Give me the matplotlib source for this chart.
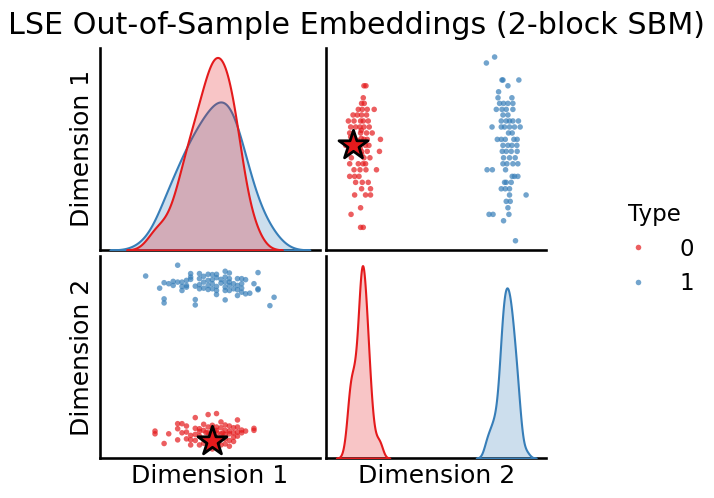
import matplotlib
matplotlib.use("Agg")
import matplotlib.pyplot as plt
from matplotlib.lines import Line2D
import pandas as pd
import seaborn as sns

# valores (Type 0 = rojo, Type 1 = azul)
red_dim1 = [0.823, 0.823, 0.763, 0.735, 0.735, 0.705, 0.705, 0.705, 0.705, 0.677,
            0.677, 0.677, 0.677, 0.647, 0.647, 0.647, 0.647, 0.647, 0.617, 0.617,
            0.617, 0.617, 0.617, 0.587, 0.587, 0.587, 0.587, 0.555, 0.555, 0.555,
            0.525, 0.525, 0.525, 0.495, 0.495, 0.495, 0.495, 0.463, 0.463, 0.463,
            0.433, 0.433, 0.433, 0.433, 0.403, 0.403, 0.403, 0.403, 0.370, 0.370,
            0.370, 0.340, 0.340, 0.340, 0.308, 0.308, 0.277, 0.277, 0.277, 0.213,
            0.180, 0.115, 0.115, 0.567, 0.550, 0.500, 0.525, 0.560, 0.540, 0.510,
            0.480, 0.600]
red_dim2 = [-0.733, -0.713, -0.740, -0.757, -0.730, -0.790, -0.750, -0.700, -0.630, -0.843,
            -0.800, -0.757, -0.707, -0.890, -0.833, -0.767, -0.740, -0.690, -0.867, -0.817,
            -0.773, -0.733, -0.680, -0.877, -0.767, -0.707, -0.650, -0.733, -0.700, -0.567,
            -0.917, -0.717, -0.683, -0.877, -0.757, -0.700, -0.577, -0.860, -0.733, -0.673,
            -0.877, -0.790, -0.743, -0.717, -0.833, -0.773, -0.713, -0.607, -0.877, -0.827,
            -0.783, -0.817, -0.750, -0.690, -0.757, -0.667, -0.827, -0.717, -0.667, -0.767,
            -0.863, -0.767, -0.740, -0.867, -0.800, -0.817, -0.780, -0.760, -0.745, -0.770,
            -0.755, -0.760]

blue_dim1 = [0.967, 0.937, 0.852, 0.852, 0.852, 0.823, 0.793, 0.763, 0.763, 0.735,
             0.735, 0.735, 0.735, 0.705, 0.705, 0.705, 0.705, 0.677, 0.677, 0.647,
             0.647, 0.647, 0.647, 0.647, 0.617, 0.617, 0.617, 0.617, 0.617, 0.617,
             0.587, 0.587, 0.555, 0.555, 0.555, 0.555, 0.555, 0.525, 0.525, 0.525,
             0.525, 0.495, 0.495, 0.495, 0.495, 0.463, 0.463, 0.463, 0.433, 0.433,
             0.433, 0.433, 0.403, 0.403, 0.403, 0.370, 0.370, 0.370, 0.340, 0.340,
             0.340, 0.308, 0.308, 0.308, 0.277, 0.277, 0.245, 0.245, 0.213, 0.180,
             0.180, 0.180, 0.148, 0.048]
blue_dim2 = [0.583, 0.500, 0.657, 0.667, 0.827, 0.717, 0.623, 0.617, 0.757, 0.633,
             0.673, 0.717, 0.767, 0.600, 0.657, 0.700, 0.767, 0.667, 0.717, 0.650,
             0.700, 0.733, 0.767, 0.823, 0.557, 0.650, 0.683, 0.733, 0.783, 0.840,
             0.723, 0.760, 0.610, 0.650, 0.690, 0.777, 0.810, 0.667, 0.717, 0.757,
             0.807, 0.660, 0.700, 0.750, 0.810, 0.673, 0.733, 0.790, 0.667, 0.707,
             0.767, 0.817, 0.507, 0.560, 0.693, 0.760, 0.783, 0.817, 0.683, 0.700,
             0.750, 0.650, 0.690, 0.733, 0.733, 0.900, 0.700, 0.740, 0.717, 0.527,
             0.567, 0.727, 0.673, 0.793]

# punto fuera de muestra
star_dim1 = 0.525
star_dim2 = -0.84

sns.set_context("talk")

df = pd.DataFrame({
    "Dimension 1": red_dim1 + blue_dim1,
    "Dimension 2": red_dim2 + blue_dim2,
    "Type": [0] * len(red_dim1) + [1] * len(blue_dim1),
})

g = sns.pairplot(df, hue="Type", palette="Set1",
                 plot_kws=dict(s=16, alpha=0.7, linewidth=0))
fig = g.fig
fig.set_size_inches(7.14, 4.98)
g._legend.remove()
fig.subplots_adjust(left=0.140, right=0.765, bottom=0.080, top=0.904,
                    wspace=0.03, hspace=0.03)

colores = sns.color_palette("Set1", 2)

# estrella en los dos paneles de dispersion
g.axes[0, 1].scatter([star_dim2], [star_dim1], marker="*", s=480, c=[colores[0]],
                     edgecolors="black", linewidths=2, zorder=5)
g.axes[1, 0].scatter([star_dim1], [star_dim2], marker="*", s=480, c=[colores[0]],
                     edgecolors="black", linewidths=2, zorder=5)

for ax in g.axes.flat:
    ax.set_xticks([])
    ax.set_yticks([])

handles = [Line2D([], [], marker="o", linestyle="none", color=c, alpha=0.7,
                  markersize=4, markeredgewidth=0) for c in colores]
fig.legend(handles, ["0", "1"], title="Type", loc="center",
           bbox_to_anchor=(0.917, 0.50), frameon=False,
           fontsize=16.5, title_fontsize=16.5)

fig.suptitle("LSE Out-of-Sample Embeddings (2-block SBM)", fontsize=21.7, y=0.978)

fig.savefig("out.png", dpi=100)
